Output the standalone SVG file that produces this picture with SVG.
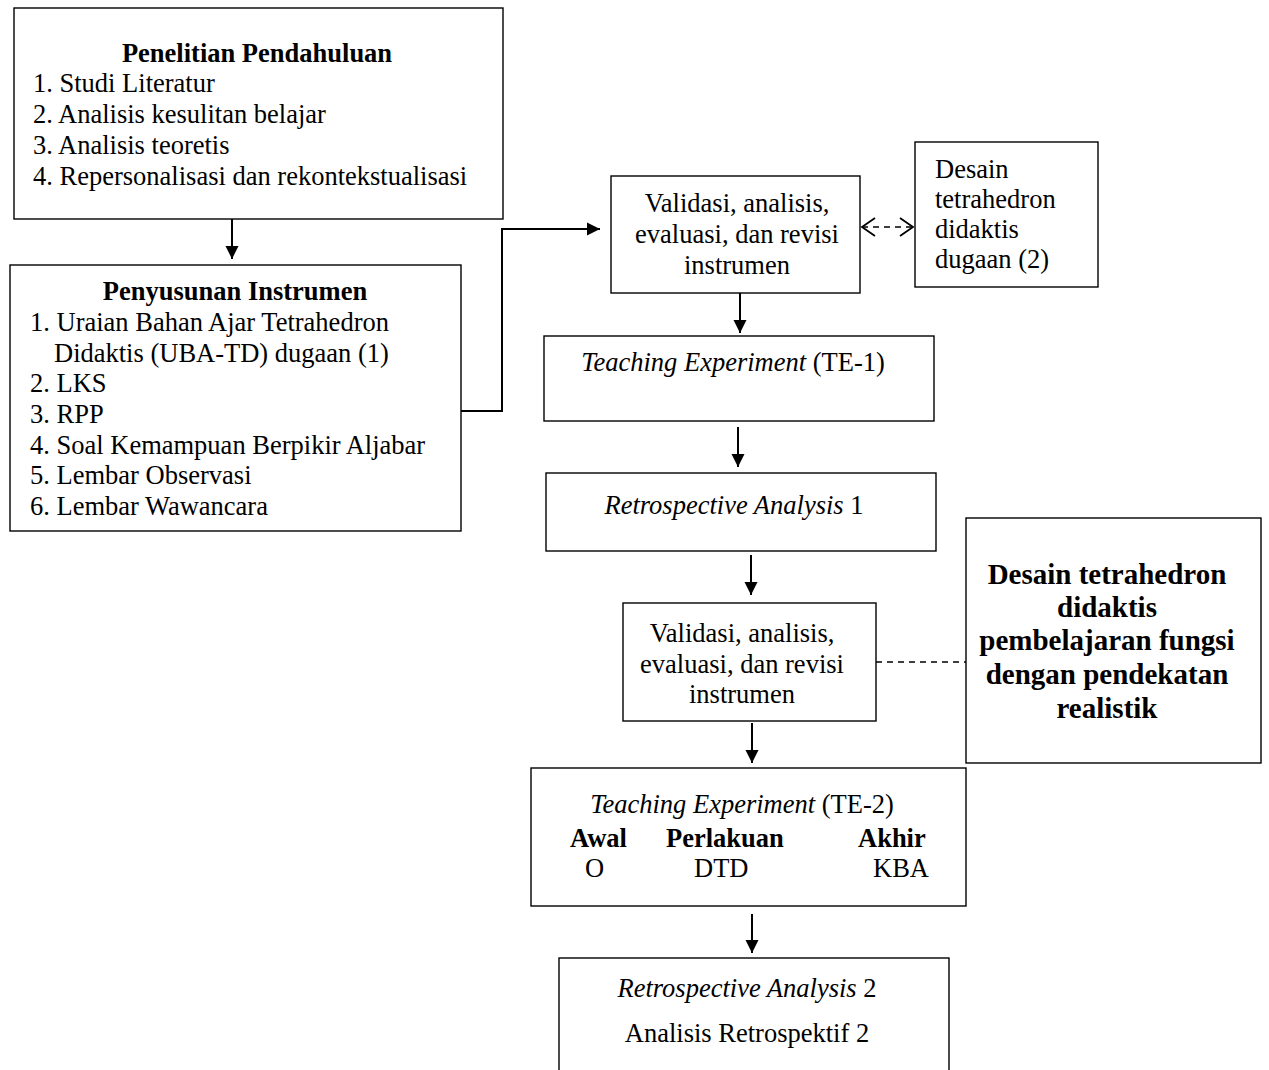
<svg xmlns="http://www.w3.org/2000/svg" width="1269" height="1070" viewBox="0 0 1269 1070">
<style>
.box{fill:#fff;stroke:#000;stroke-width:1.4}
text{font-family:"Liberation Serif","Times New Roman",serif;font-size:26.5px;fill:#000}
.b{font-weight:bold}
.i{font-style:italic}
.c{text-anchor:middle}
.big{font-size:29px;font-weight:bold}
.con{fill:none;stroke:#000;stroke-width:2}
.dash{fill:none;stroke:#000;stroke-width:1.6;stroke-dasharray:6 5}
</style>
<defs>
<marker id="ah" markerWidth="14" markerHeight="14" refX="13" refY="7" orient="auto" markerUnits="userSpaceOnUse">
<path d="M0,0.5 L13,7 L0,13.5 Z" fill="#000"/>
</marker>
<marker id="oh" markerWidth="16" markerHeight="22" refX="14" refY="11" orient="auto-start-reverse" markerUnits="userSpaceOnUse">
<path d="M1,2 L14,11 L1,20" fill="none" stroke="#000" stroke-width="1.8"/>
</marker>
</defs>
<rect width="1269" height="1070" fill="#fff"/>
<g id="connectors">
<line class="con" x1="232" y1="219" x2="232" y2="259" marker-end="url(#ah)"/>
<polyline class="con" points="461,411 502,411 502,229 600,229" marker-end="url(#ah)"/>
<line class="dash" x1="862" y1="227" x2="913" y2="227" marker-start="url(#oh)" marker-end="url(#oh)"/>
<line class="con" x1="740" y1="293" x2="740" y2="333" marker-end="url(#ah)"/>
<line class="con" x1="738" y1="427" x2="738" y2="467" marker-end="url(#ah)"/>
<line class="con" x1="751" y1="555" x2="751" y2="595" marker-end="url(#ah)"/>
<line class="dash" x1="876" y1="662" x2="966" y2="662"/>
<line class="con" x1="752" y1="723" x2="752" y2="763" marker-end="url(#ah)"/>
<line class="con" x1="752" y1="914" x2="752" y2="953" marker-end="url(#ah)"/>
</g>
<g id="penelitian">
<rect class="box" x="14" y="8" width="489" height="211"/>
<text class="b c" x="257" y="62">Penelitian Pendahuluan</text>
<text x="33" y="92">1. Studi Literatur</text>
<text x="33" y="123">2. Analisis kesulitan belajar</text>
<text x="33" y="154">3. Analisis teoretis</text>
<text x="33" y="185">4. Repersonalisasi dan rekontekstualisasi</text>
</g>
<g id="penyusunan">
<rect class="box" x="10" y="265" width="451" height="266"/>
<text class="b c" x="235" y="300">Penyusunan Instrumen</text>
<text x="30" y="331">1. Uraian Bahan Ajar Tetrahedron</text>
<text x="54" y="362">Didaktis (UBA-TD) dugaan (1)</text>
<text x="30" y="392">2. LKS</text>
<text x="30" y="423">3. RPP</text>
<text x="30" y="454">4. Soal Kemampuan Berpikir Aljabar</text>
<text x="30" y="484">5. Lembar Observasi</text>
<text x="30" y="515">6. Lembar Wawancara</text>
</g>
<g id="validasi1">
<rect class="box" x="611" y="176" width="249" height="117"/>
<text class="c" x="737" y="212">Validasi, analisis,</text>
<text class="c" x="737" y="243">evaluasi, dan revisi</text>
<text class="c" x="737" y="274">instrumen</text>
</g>
<g id="desain-dugaan">
<rect class="box" x="915" y="142" width="183" height="145"/>
<text x="935" y="178">Desain</text>
<text x="935" y="208">tetrahedron</text>
<text x="935" y="238">didaktis</text>
<text x="935" y="268">dugaan (2)</text>
</g>
<g id="te1">
<rect class="box" x="544" y="336" width="390" height="85"/>
<text class="c" x="733" y="371"><tspan class="i">Teaching Experiment</tspan> (TE-1)</text>
</g>
<g id="ra1">
<rect class="box" x="546" y="473" width="390" height="78"/>
<text class="c" x="734" y="514"><tspan class="i">Retrospective Analysis</tspan> 1</text>
</g>
<g id="validasi2">
<rect class="box" x="623" y="603" width="253" height="118"/>
<text class="c" x="742" y="642">Validasi, analisis,</text>
<text class="c" x="742" y="673">evaluasi, dan revisi</text>
<text class="c" x="742" y="703">instrumen</text>
</g>
<g id="desain-final">
<rect class="box" x="966" y="518" width="295" height="245"/>
<text class="big c" x="1107" y="584">Desain tetrahedron</text>
<text class="big c" x="1107" y="617">didaktis</text>
<text class="big c" x="1107" y="650">pembelajaran fungsi</text>
<text class="big c" x="1107" y="684">dengan pendekatan</text>
<text class="big c" x="1107" y="718">realistik</text>
</g>
<g id="te2">
<rect class="box" x="531" y="768" width="435" height="138"/>
<text class="c" x="742" y="813"><tspan class="i">Teaching Experiment</tspan> (TE-2)</text>
<text class="b" x="570" y="847">Awal</text>
<text class="b" x="666" y="847">Perlakuan</text>
<text class="b" x="858" y="847">Akhir</text>
<text x="585" y="877">O</text>
<text x="694" y="877">DTD</text>
<text x="873" y="877">KBA</text>
</g>
<g id="ra2">
<rect class="box" x="559" y="958" width="390" height="130"/>
<text class="c" x="747" y="997"><tspan class="i">Retrospective Analysis</tspan> 2</text>
<text class="c" x="747" y="1042">Analisis Retrospektif 2</text>
</g>
</svg>
